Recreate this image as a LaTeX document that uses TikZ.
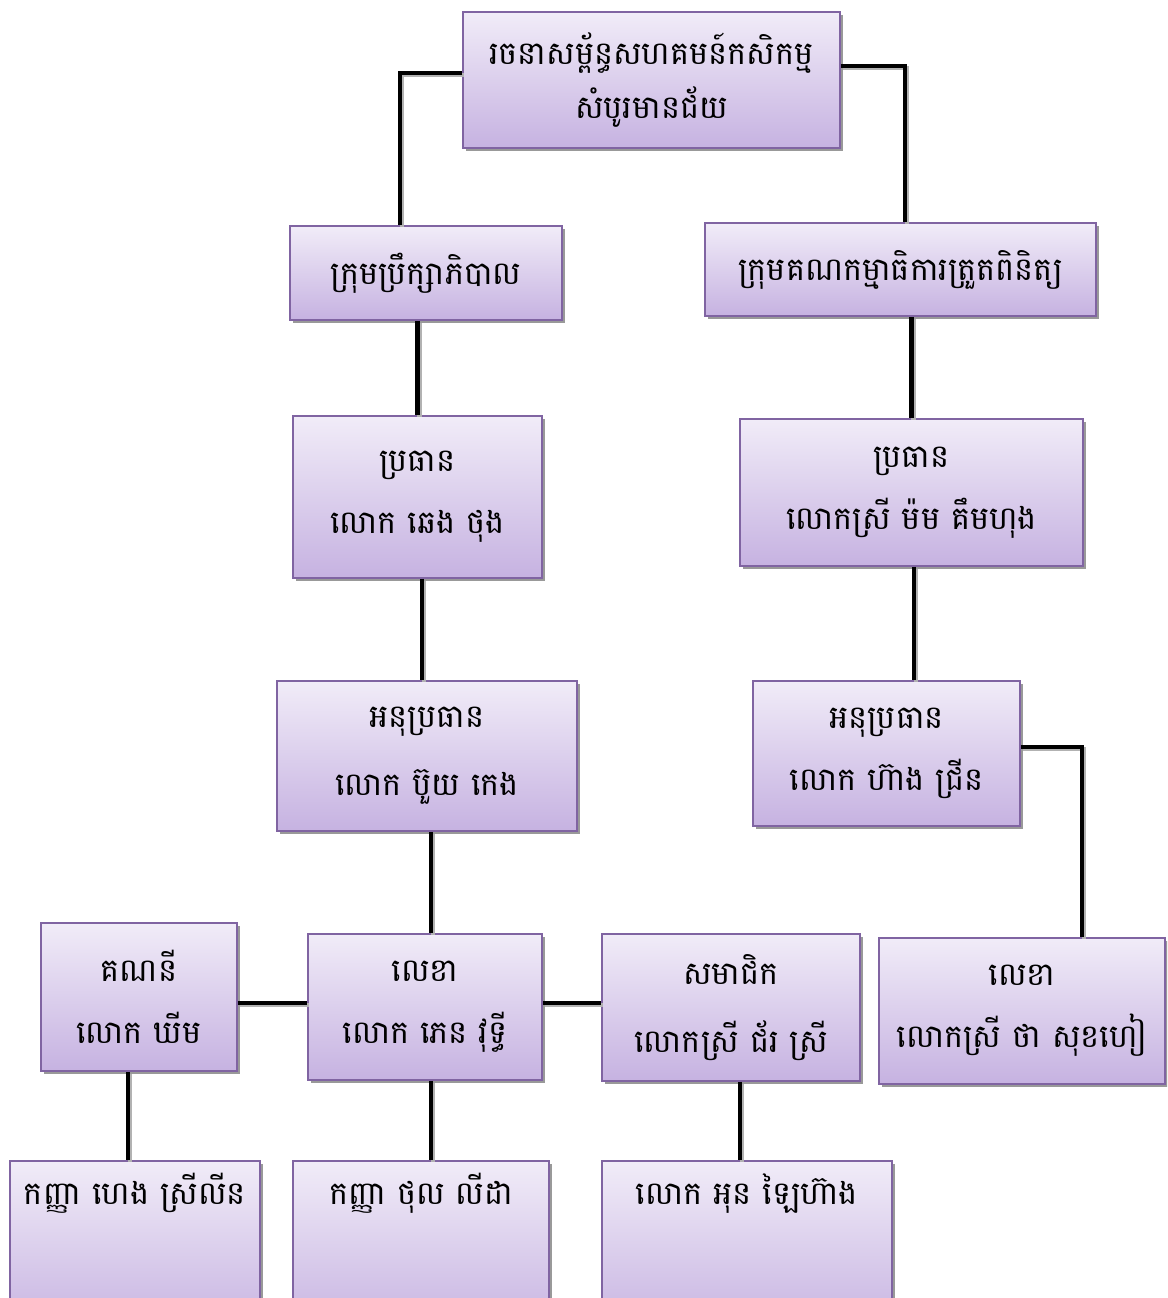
\documentclass[tikz,border=0pt]{standalone}
\usepackage{fontspec}
\newfontfamily\khmerfont[Script=Khmer]{Battambang}
\usepackage{tikz}
\usetikzlibrary{
  positioning, calc, shadows,
  arrows.meta, backgrounds
}
\definecolor{lavtop}{HTML}{F1ECF8}
\definecolor{lavbot}{HTML}{C6B2E1}
\definecolor{boxedge}{HTML}{8064A2}

\begin{document}
\begin{tikzpicture}[x=1pt,y=-1pt,
    orgbox/.style={draw=boxedge, line width=1.5pt, top color=lavtop,
        bottom color=lavbot, align=center, inner sep=0pt,
        font=\khmerfont\fontsize{32}{62}\selectfont,
        drop shadow={shadow xshift=3pt, shadow yshift=-3pt,
            fill=black!40, opacity=1}},
    openbox/.style={orgbox, anchor=north, text height=44pt,
        text depth=130pt, minimum height=0pt},
    link/.style={line width=4.5pt, black,
        preaction={draw=black!30, line width=4.5pt,
            transform canvas={xshift=2pt, yshift=-2pt}}}]
        \useasboundingbox (0,0) rectangle (1167,1298);
        \clip (0,0) rectangle (1167,1298);
        % first rows
        \node[orgbox, minimum width=377pt, minimum height=136pt] (coop)
            at (651.5,80) {រចនាសម្ព័ន្ធសហគមន៍កសិកម្ម\\[-8pt]សំបូរមានជ័យ};
        \node[orgbox, minimum width=272pt, minimum height=94pt] (board)
            at (426,273) {ក្រុមប្រឹក្សាភិបាល};
        \node[orgbox, minimum width=391pt, minimum height=93pt] (audit)
            at (900.5,269.5) {ក្រុមគណកម្មាធិការត្រួតពិនិត្យ};
        \node[orgbox, minimum width=249pt, minimum height=162pt] (chairL)
            at (417.5,497) {ប្រធាន\\លោក ឆេង ថុង};
        \node[orgbox, minimum width=343pt, minimum height=147pt] (chairR)
            at (911.5,492.5) {ប្រធាន\\លោកស្រី ម៉ម គឹមហុង};
        \node[orgbox, minimum width=300pt, minimum height=150pt] (viceL)
            at (427,756) {អនុប្រធាន\\[6pt]លោក ប៊ួយ កេង};
        \node[orgbox, minimum width=267pt, minimum height=145pt] (viceR)
            at (886.5,753.5) {អនុប្រធាន\\លោក ហ៊ាង ជ្រីន};
        % lower rows
        \node[orgbox, minimum width=196pt, minimum height=148pt] (cashier)
            at (139,997) {គណនី\\លោក ឃីម};
        \node[orgbox, minimum width=234pt, minimum height=146pt] (secL)
            at (425,1007) {លេខា\\លោក ភេន វុទ្ធី};
        \node[orgbox, minimum width=258pt, minimum height=147pt] (member)
            at (731,1007.5) {សមាជិក\\[6pt]លោកស្រី ជ័រ ស្រី};
        \node[orgbox, minimum width=286pt, minimum height=146pt] (secR)
            at (1022,1011) {លេខា\\លោកស្រី ថា សុខហៀ};
        \node[openbox, minimum width=250pt] (helper1)
            at (135,1160) {កញ្ញា ហេង ស្រីលីន};
        \node[openbox, minimum width=256pt] (helper2)
            at (421,1160) {កញ្ញា ថុល លីដា};
        \node[openbox, minimum width=290pt] (helper3)
            at (747,1160) {លោក អុន ឡៃហ៊ាង};
        % connectors
        \draw[link] ([yshift=7pt]coop.west) -| ([xshift=-26pt]board.north);
        \draw[link] ([yshift=14pt]coop.east) -| ([xshift=4.5pt]audit.north);
        \draw[link] (board.south -| chairL.north) -- (chairL.north);
        \draw[link] (audit.south -| chairR.north) -- (chairR.north);
        \draw[link] ([xshift=4.5pt]chairL.south) -- ([xshift=-5pt]viceL.north);
        \draw[link] ([xshift=2.5pt]chairR.south) -- ([xshift=27.5pt]viceR.north);
        \draw[link] ([xshift=4pt]viceL.south) -- ([xshift=6pt]secL.north);
        \draw[link] ([yshift=6.5pt]viceR.east) -| ([xshift=60pt]secR.north);
        \draw[link] ([yshift=-6pt]cashier.east) -- ([yshift=4pt]secL.west);
        \draw[link] ([yshift=4pt]secL.east) -- ([yshift=4.5pt]member.west);
        \draw[link] ([xshift=-11pt]cashier.south) -- ([xshift=-7pt]helper1.north);
        \draw[link] ([xshift=6pt]secL.south) -- ([xshift=10pt]helper2.north);
        \draw[link] ([xshift=9pt]member.south) -- ([xshift=-7pt]helper3.north);
    \end{tikzpicture}
\end{document}
